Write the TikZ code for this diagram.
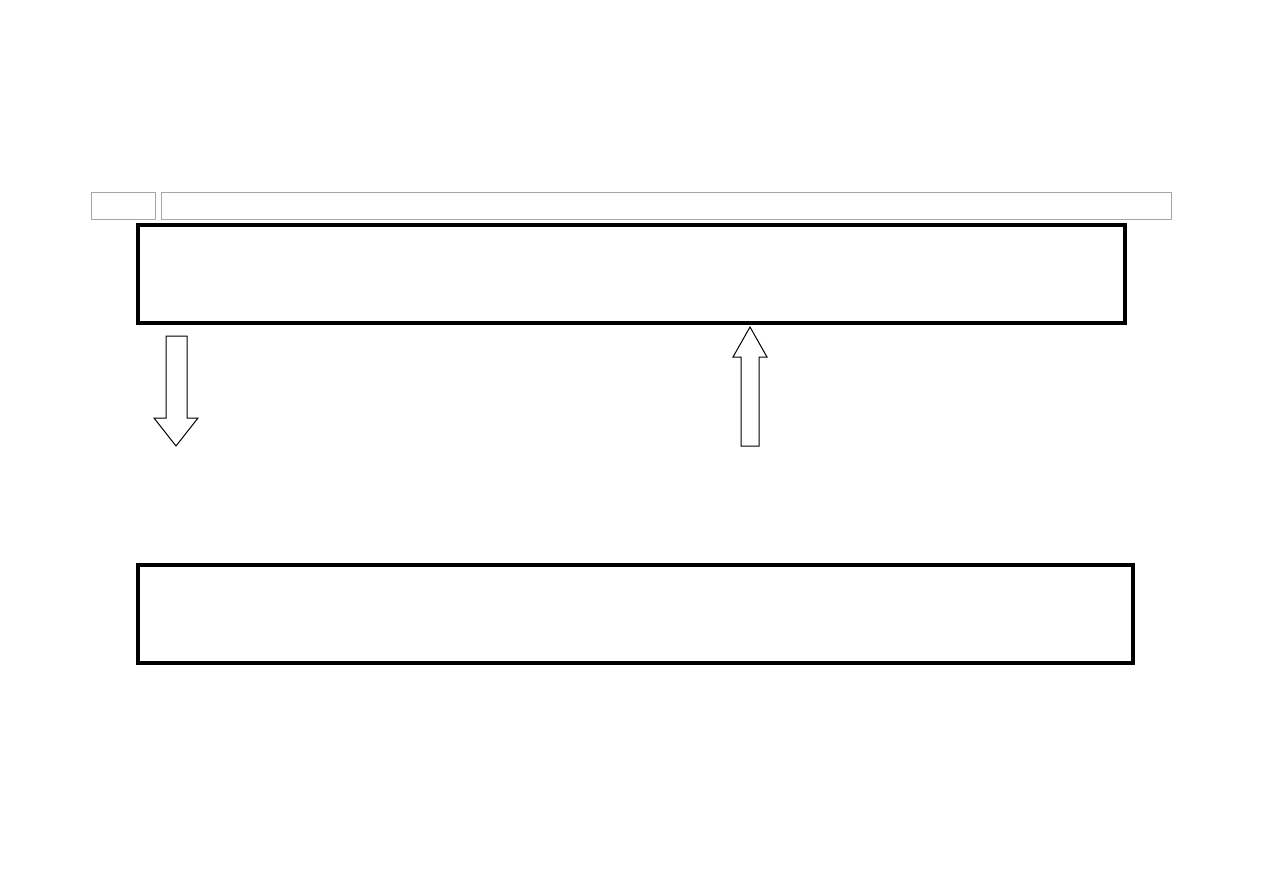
\documentclass[tikz,border=0pt]{standalone}
\usepackage{tikz}
\usetikzlibrary{calc}
\tikzset{
  thickbox/.style={draw=black, line width=4.2pt, minimum width=#1, minimum height=98pt, inner sep=0pt},
  graybox/.style={draw=black!35, line width=0.8pt},
  blockarrow/.style={draw=black, line width=1pt, fill=white}
}
\begin{document}
\begin{tikzpicture}[x=1pt, y=-1pt]
				\useasboundingbox (0, 0) rectangle (1263, 893);
				
				\draw[graybox] (91, 192) rectangle (155, 219);
				\draw[graybox] (161, 192) rectangle (1171, 219);
				
				\node[thickbox=987pt] (upper) at (631.5, 274) {};
				\node[thickbox=995pt] (lower) at (635.5, 614) {};
				
				\draw[blockarrow] (166, 336) -- (187, 336) -- (187, 418) -- (198, 418) -- (176, 446) -- (154, 418) -- (166, 418) -- cycle;
				\draw[blockarrow] (741, 446) -- (759, 446) -- (759, 357) -- (767, 357) -- (750, 327) -- (733, 357) -- (741, 357) -- cycle;
			\end{tikzpicture}
\end{document}
